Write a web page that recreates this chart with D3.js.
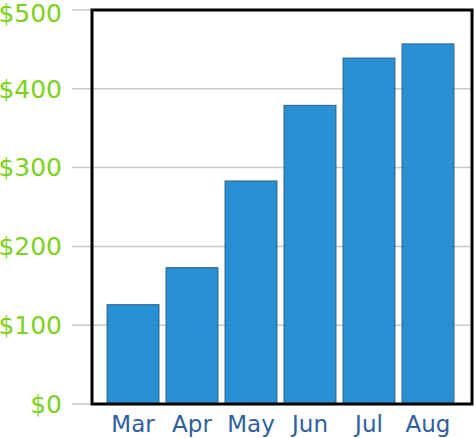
<!DOCTYPE html><html><head><script src="https://cdn.jsdelivr.net/npm/d3@7"></script>
<style>body{margin:0;background:#fff}</style></head><body><svg width="474" height="438"></svg>
<script>
const categories=["Mar","Apr","May","Jun","Jul","Aug"];
const values=[126,173,283,379,439,457];
const yTicks=[0,100,200,300,400,500];
const svg=d3.select("svg");
const L=92,R=472,T=10,B=404;
const y=d3.scaleLinear().domain([0,500]).range([B,T]);
const x=d3.scaleBand().domain(categories).range([103.5,457.5]).paddingInner(0.12).paddingOuter(0.06);
svg.append("g").selectAll("line").data(yTicks).join("line")
 .attr("x1",72).attr("x2",R).attr("y1",d=>y(d)).attr("y2",d=>y(d)).attr("stroke","#c8c8c8").attr("stroke-width",1.5);
svg.append("g").selectAll("rect").data(values).join("rect")
 .attr("x",(d,i)=>x(categories[i])).attr("width",x.bandwidth())
 .attr("y",d=>y(d)).attr("height",d=>B-y(d))
 .attr("fill","#1c8bd2").attr("fill-opacity",0.95).attr("stroke","#2b5f86").attr("stroke-width",1);
svg.append("rect").attr("x",L).attr("y",T).attr("width",R-L).attr("height",B-T).attr("fill","none").attr("stroke","#000").attr("stroke-width",3);
svg.append("g").selectAll("text").data(yTicks).join("text")
 .attr("x",62).attr("y",d=>Math.max(y(d),13)).attr("dy","0.35em").attr("text-anchor","end")
 .attr("font-family","DejaVu Sans").attr("font-size",25).attr("fill","#7cd11e").text(d=>"$"+d);
svg.append("g").selectAll("text").data(categories).join("text")
 .attr("x",d=>x(d)+x.bandwidth()/2).attr("y",432).attr("text-anchor","middle")
 .attr("font-family","DejaVu Sans").attr("font-size",23).attr("fill","#2f5f9e").text(d=>d);
</script></body></html>
